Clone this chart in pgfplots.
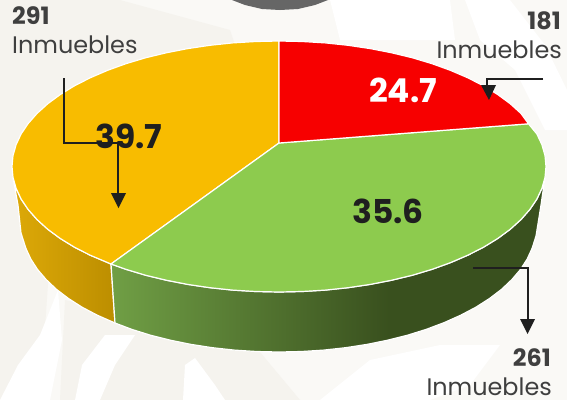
\documentclass[border=0pt]{standalone}
\usepackage{fontspec}
\setmainfont{Poppins}
\usepackage{pgfplots}
\pgfplotsset{compat=1.18}
\definecolor{cy}{HTML}{F8BC00}
\definecolor{cg}{HTML}{8DCB4E}
\definecolor{cr}{HTML}{F70000}
\definecolor{ct}{HTML}{1F1F1F}
\definecolor{cl}{HTML}{3F3F3F}
\definecolor{bgc}{HTML}{FAF9F6}
\definecolor{bgd}{HTML}{F5F3EE}
\definecolor{sa}{HTML}{709F45}
\definecolor{sb}{HTML}{39501E}
\definecolor{ya}{HTML}{DDA908}
\definecolor{yb}{HTML}{BC8E00}
\pgfdeclarehorizontalshading{greenside}{100bp}{color(0bp)=(sa); color(25bp)=(sa); color(57bp)=(sb); color(100bp)=(sb)}
\pgfdeclarehorizontalshading{yellowside}{100bp}{color(0bp)=(ya); color(25bp)=(ya); color(75bp)=(yb); color(100bp)=(yb)}
\begin{document}
\begin{tikzpicture}
\begin{axis}[scale only axis,width=567bp,height=400bp,xmin=0,xmax=567,ymin=0,ymax=400,y dir=reverse,hide axis,clip=true]
% background
\addplot[draw=none,fill=bgc] coordinates {(0,0)(567,0)(567,400)(0,400)} --cycle;
\addplot[draw=none,fill=bgd] coordinates {(0,0)(120,0)(230,30)(240,60)(60,110)(40,400)(0,400)} --cycle;
\addplot[draw=none,fill=bgd] coordinates {(65,300)(250,340)(300,400)(60,400)} --cycle;
\addplot[draw=none,fill=white] coordinates {(330,0)(450,0)(455,40)(340,40)} --cycle;
\addplot[draw=none,fill=white] coordinates {(465,0)(510,0)(545,45)(567,90)(567,130)(545,130)(515,70)(480,40)} --cycle;
\addplot[draw=none,fill=white] coordinates {(0,400)(18,365)(40,335)(58,290)(62,340)(50,400)} --cycle;
\addplot[draw=none,fill=white] coordinates {(75,400)(82,365)(105,335)(135,335)(115,365)(100,400)} --cycle;
\addplot[draw=none,fill=white] coordinates {(183,400)(185,365)(195,358)(215,385)(225,400)} --cycle;
\addplot[draw=none,fill=white] coordinates {(320,400)(370,360)(440,345)(500,345)(470,385)(430,400)} --cycle;
% gray shape at the top
\addplot[draw=none,fill=black!60] coordinates {(232,0)(245,5)(262,9)(280,10)(298,9)(315,5)(328,0)} --cycle;
% sides
\addplot[draw=white,line width=1.2pt,shading=yellowside] coordinates {(13,177.4)(16.1,188.3)(21.1,199)(28.1,209.4)(37,219.5)(47.8,229.3)(60.3,238.5)(74.5,247.2)(90.2,255.2)(111,264)(115,323)(97.3,315.2)(82.1,307.2)(68.5,298.5)(56.4,289.3)(46.1,279.5)(37.5,269.4)(30.8,259)(25.9,248.3)(21,233)(18,205)} --cycle;
\addplot[draw=white,line width=1.2pt,shading=greenside] coordinates {(111,264)(125.9,269.3)(145.5,275.2)(166.2,280.2)(187.7,284.4)(209.9,287.7)(232.6,290.1)(255.7,291.5)(279,292)(302.3,291.5)(325.4,290.1)(348.1,287.7)(370.3,284.4)(391.8,280.2)(412.5,275.2)(432.1,269.3)(450.6,262.6)(467.8,255.2)(483.5,247.2)(497.7,238.5)(510.2,229.3)(521,219.5)(529.9,209.4)(536.9,199)(541.9,188.3)(545,177.4)(541,205)(536,236)(532.1,248.3)(527.2,259)(520.5,269.4)(511.9,279.5)(501.6,289.3)(489.5,298.5)(475.9,307.2)(460.7,315.2)(444.2,322.6)(426.4,329.3)(407.5,335.2)(387.6,340.2)(366.9,344.4)(345.5,347.7)(323.6,350.1)(301.4,351.5)(279,352)(256.6,351.5)(234.4,350.1)(212.5,347.7)(191.1,344.4)(170.4,340.2)(150.5,335.2)(131.6,329.3)(115,323)} --cycle;
% top slices
\addplot[draw=white,line width=1.2pt,fill=cy] coordinates {(279,143)(111,264)(90.2,255.2)(74.5,247.2)(60.3,238.5)(47.8,229.3)(37,219.5)(28.1,209.4)(21.1,199)(16.1,188.3)(13,177.4)(12,166.5)(13,155.6)(16.1,144.7)(21.1,134)(28.1,123.6)(37,113.5)(47.8,103.7)(60.3,94.5)(74.5,85.8)(90.2,77.8)(107.4,70.4)(125.9,63.7)(145.5,57.8)(166.2,52.8)(187.7,48.6)(209.9,45.3)(232.6,42.9)(255.7,41.5)(279,41)} --cycle;
\addplot[draw=white,line width=1.2pt,fill=cg] coordinates {(279,143)(528.5,123.8)(536.9,134)(541.9,144.7)(545,155.6)(546,166.5)(545,177.4)(541.9,188.3)(536.9,199)(529.9,209.4)(521,219.5)(510.2,229.3)(497.7,238.5)(483.5,247.2)(467.8,255.2)(450.6,262.6)(432.1,269.3)(412.5,275.2)(391.8,280.2)(370.3,284.4)(348.1,287.7)(325.4,290.1)(302.3,291.5)(279,292)(255.7,291.5)(232.6,290.1)(209.9,287.7)(187.7,284.4)(166.2,280.2)(145.5,275.2)(125.9,269.3)(111,264)} --cycle;
\addplot[draw=white,line width=1.2pt,fill=cr] coordinates {(279,143)(279,41)(302.3,41.5)(325.4,42.9)(348.1,45.3)(370.3,48.6)(391.8,52.8)(412.5,57.8)(432.1,63.7)(450.6,70.4)(467.8,77.8)(483.5,85.8)(497.7,94.5)(510.2,103.7)(521,113.5)(528.5,123.8)} --cycle;
% arrows
\addplot[draw=ct,line width=1.6pt] coordinates {(64,78)(64,143)(118,143)(118,196)};
\addplot[draw=none,fill=ct] coordinates {(111,193)(126,193)(118.5,208)} --cycle;
\addplot[draw=ct,line width=1.6pt] coordinates {(543,79)(487,79)(487,87)};
\addplot[draw=none,fill=ct] coordinates {(481,85)(496,85)(489,100)} --cycle;
\addplot[draw=ct,line width=1.6pt] coordinates {(473,268)(528,268)(528,322)};
\addplot[draw=none,fill=ct] coordinates {(520,319)(535,319)(527.5,334)} --cycle;
% labels
\node[text=white,font=\fontsize{33}{33}\selectfont\bfseries] at (axis cs:403,90) {24.7};
\node[text=ct,font=\fontsize{33}{33}\selectfont\bfseries] at (axis cs:129,136) {39.7};
\node[text=ct,font=\fontsize{33}{33}\selectfont\bfseries] at (axis cs:388,211) {35.6};
\node[inner sep=0pt,text=cl,font=\fontsize{24}{24}\selectfont\bfseries,anchor=west] at (axis cs:12,16) {291};
\node[inner sep=0pt,text=cl,font=\fontsize{24}{24}\selectfont,anchor=west] at (axis cs:12,45) {Inmuebles};
\node[inner sep=0pt,text=cl,font=\fontsize{24}{24}\selectfont\bfseries,anchor=east] at (axis cs:561,20.5) {181};
\node[inner sep=0pt,text=cl,font=\fontsize{24}{24}\selectfont,anchor=east] at (axis cs:562,50) {Inmuebles};
\node[inner sep=0pt,text=cl,font=\fontsize{24}{24}\selectfont\bfseries,anchor=east] at (axis cs:551,358) {261};
\node[inner sep=0pt,text=cl,font=\fontsize{24}{24}\selectfont,anchor=east] at (axis cs:552,386.5) {Inmuebles};
\end{axis}
\end{tikzpicture}
\end{document}
